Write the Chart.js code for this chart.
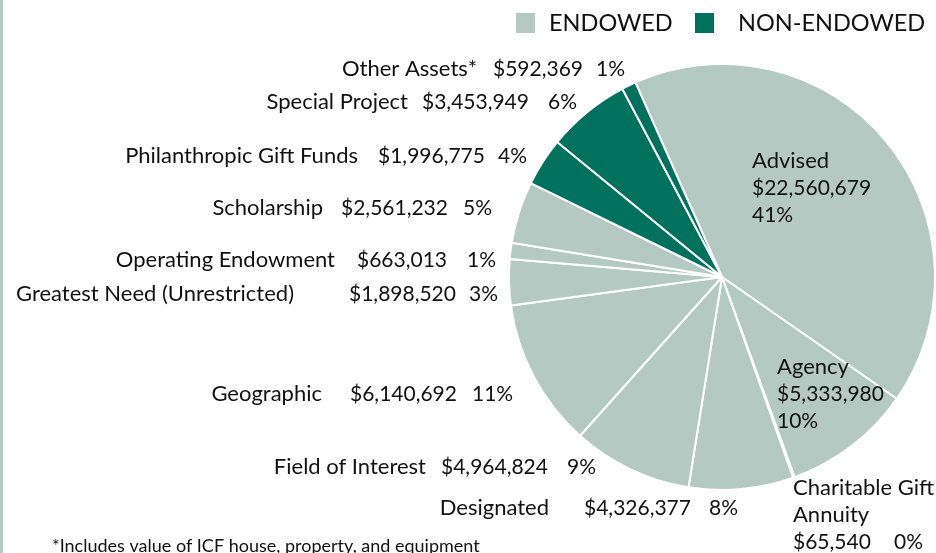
<!DOCTYPE html>
<html>
<head>
<meta charset="utf-8">
<script src="https://cdn.jsdelivr.net/npm/chart.js@4/dist/chart.umd.min.js"></script>
<style>
  html, body { margin: 0; padding: 0; background: #fff; }
  #wrap { position: relative; width: 936px; height: 553px; overflow: hidden; }
</style>
</head>
<body>
<div id="wrap"><canvas id="fundsChart" width="936" height="553"></canvas></div>
<script>
// DATA (clockwise from the top)
const funds = ["Advised", "Agency", "Charitable Gift Annuity", "Designated", "Field of Interest",
    "Geographic", "Greatest Need (Unrestricted)", "Operating Endowment", "Scholarship",
    "Philanthropic Gift Funds", "Special Project", "Other Assets*"];
const amounts = [22560679, 5333980, 65540, 4326377, 4964824, 6140692, 1898520, 663013, 2561232,
    1996775, 3453949, 592369];
const percents = [41, 10, 0, 8, 9, 11, 3, 1, 5, 4, 6, 1];
const endowed = [true, true, true, true, true, true, true, true, true, false, false, false];
const groups = ["ENDOWED", "NON-ENDOWED"];
const footnote = "*Includes value of ICF house, property, and equipment";

const LIGHT = "#b4c9c1";
const DARK = "#00715c";
const FONT = "Lato, 'Open Sans', sans-serif";
const NAME_FONT = "22px " + FONT;
const NUM_FONT = "21px " + FONT;

const money = v => "$" + v.toLocaleString("en-US");

// label placement: "in" = stacked lines, left aligned; "row" = name right aligned + amount + pct
const labelPos = [
    { mode: "in", x: 752, y: 161, lines: ["Advised"] },
    { mode: "in", x: 777, y: 367, lines: ["Agency"] },
    { mode: "in", x: 793, y: 488, lines: ["Charitable Gift", "Annuity"], pctX: 894 },
    { mode: "row", nameR: 549, amtX: 584, pctX: 709, y: 508 },
    { mode: "row", nameR: 426, amtX: 441, pctX: 567, y: 467 },
    { mode: "row", nameR: 322, amtX: 350, pctX: 472, y: 394 },
    { mode: "row", nameR: 294, amtX: 349, pctX: 469, y: 294 },
    { mode: "row", nameR: 335, amtX: 357, pctX: 467, y: 260 },
    { mode: "row", nameR: 323, amtX: 341, pctX: 463, y: 208 },
    { mode: "row", nameR: 358, amtX: 378, pctX: 498, y: 156 },
    { mode: "row", nameR: 408, amtX: 422, pctX: 548, y: 102 },
    { mode: "row", nameR: 477, amtX: 493, pctX: 596, y: 69 }
];

const annotations = {
    id: "annotations",
    afterDraw(chart) {
        const ctx = chart.ctx;
        ctx.save();

        // left rule
        ctx.fillStyle = LIGHT;
        ctx.fillRect(0, 0, 3, chart.height);

        ctx.fillStyle = "#111";
        ctx.textBaseline = "middle";

        labelPos.forEach((p, i) => {
            const amt = money(amounts[i]);
            const pct = percents[i] + "%";
            if (p.mode === "row") {
                ctx.font = NAME_FONT;
                ctx.textAlign = "right";
                ctx.fillText(funds[i], p.nameR, p.y);
                ctx.font = NUM_FONT;
                ctx.textAlign = "left";
                ctx.fillText(amt, p.amtX, p.y);
                ctx.fillText(pct, p.pctX, p.y);
            } else {
                ctx.textAlign = "left";
                ctx.font = NAME_FONT;
                let y = p.y;
                p.lines.forEach(l => { ctx.fillText(l, p.x, y); y += 27; });
                ctx.font = NUM_FONT;
                if (p.pctX) {
                    ctx.fillText(amt, p.x, y);
                    ctx.fillText(pct, p.pctX, y);
                } else {
                    ctx.fillText(amt, p.x, y);
                    ctx.fillText(pct, p.x, y + 27);
                }
            }
        });

        // legend
        ctx.font = "23.5px " + FONT;
        ctx.textAlign = "left";
        ctx.fillStyle = LIGHT;
        ctx.fillRect(516, 13, 19, 20);
        ctx.fillStyle = DARK;
        ctx.fillRect(695, 13, 19, 20);
        ctx.fillStyle = "#111";
        ctx.fillText(groups[0], 549, 23);
        ctx.fillText(groups[1], 738, 23);

        // footnote
        ctx.font = "18px " + FONT;
        ctx.fillText(footnote, 52, 546);

        ctx.restore();
    }
};

new Chart(document.getElementById("fundsChart"), {
    type: "pie",
    data: {
        labels: funds,
        datasets: [{
            data: amounts,
            backgroundColor: endowed.map(e => e ? LIGHT : DARK),
            borderColor: "#ffffff",
            borderWidth: 2
        }]
    },
    options: {
        responsive: false,
        animation: false,
        rotation: -24,
        layout: { padding: { left: 508, top: 62, right: 0, bottom: 61 } },
        plugins: {
            legend: { display: false },
            tooltip: { enabled: false }
        }
    },
    plugins: [annotations]
});
</script>
</body>
</html>
